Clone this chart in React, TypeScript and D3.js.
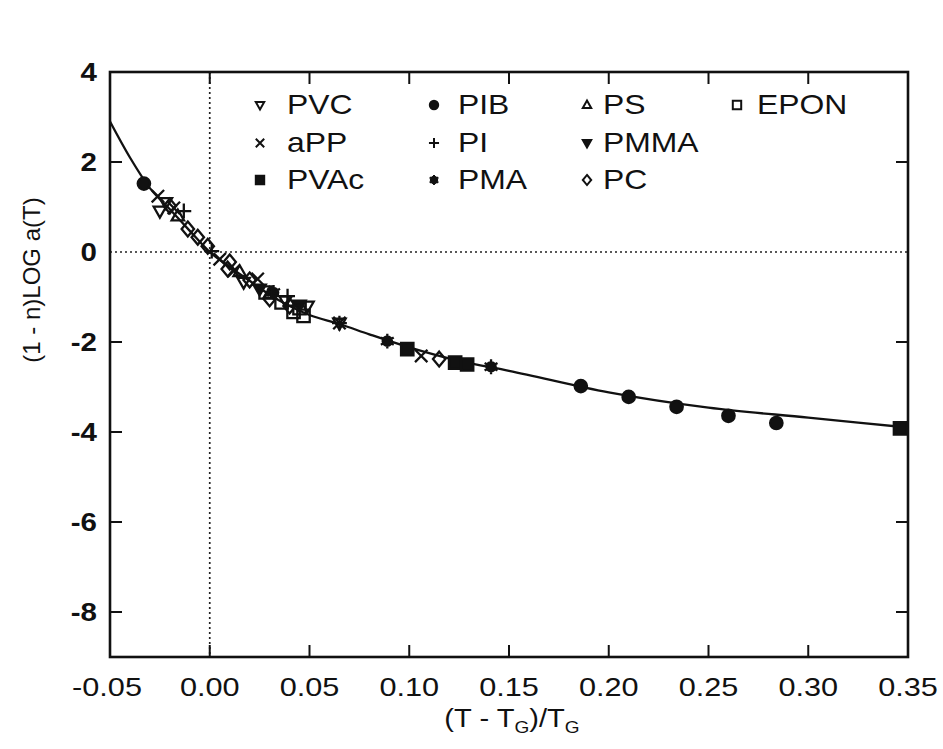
import React from "react";
import * as d3 from "d3";

// ---- data ----
const xTicks = [-0.05, 0.0, 0.05, 0.1, 0.15, 0.2, 0.25, 0.3, 0.35];
const yTicks = [4, 2, 0, -2, -4, -6, -8];

const curveX = [-0.05, -0.04, -0.03, -0.02, -0.01, 0, 0.01, 0.02, 0.03, 0.04, 0.05, 0.065, 0.08, 0.1, 0.125, 0.15, 0.2, 0.25, 0.3, 0.35];
const curveY = [2.9, 2.1, 1.42, 0.95, 0.47, 0, -0.33, -0.64, -0.95, -1.2, -1.4, -1.6, -1.83, -2.12, -2.42, -2.64, -3.12, -3.46, -3.68, -3.9];

const pvc = [[-0.025, 0.91], [-0.022, 1.1], [0.017, -0.67], [0.038, -1.08], [0.049, -1.2], [0.065, -1.58]];
const app = [[-0.026, 1.24], [-0.018, 0.98], [0.005, -0.16], [0.012, -0.42], [0.024, -0.6], [0.065, -1.58], [0.106, -2.31]];
const pvac = [[0.099, -2.16], [0.123, -2.46], [0.129, -2.5], [0.346, -3.92]];
const pib = [[-0.033, 1.52], [0.186, -2.98], [0.21, -3.22], [0.234, -3.44], [0.26, -3.64], [0.284, -3.8]];
const pi = [[-0.013, 0.91], [0.001, 0.02], [0.039, -0.98], [0.065, -1.58]];
const pma = [[0.089, -1.98], [0.141, -2.55], [0.032, -0.9]];
const ps = [[-0.016, 0.8], [0.015, -0.44], [0.03, -0.93]];
const pmma = [[0.025, -0.82], [0.045, -1.18]];
const pc = [[-0.02, 1.02], [-0.011, 0.51], [-0.006, 0.33], [-0.001, 0.13], [0.009, -0.38], [0.01, -0.22], [0.02, -0.62], [0.03, -1.04], [0.04, -1.2], [0.115, -2.38]];
const epon = [[0.028, -0.9], [0.036, -1.12], [0.042, -1.33], [0.045, -1.25], [0.047, -1.42]];

const seriesNames = ["PVC", "aPP", "PVAc", "PIB", "PI", "PMA", "PS", "PMMA", "PC", "EPON"];
const seriesData = [pvc, app, pvac, pib, pi, pma, ps, pmma, pc, epon];
const seriesShapes = ["tridown", "cross", "square", "circle", "plus", "star", "triup", "tridownF", "diamond", "squareOpen"];

// legend layout: column / row for each series (order as above)
const legendCol = [0, 0, 0, 1, 1, 1, 2, 2, 2, 3];
const legendRow = [0, 1, 2, 0, 1, 2, 0, 1, 2, 0];

function shapePath(type: string, s: number): string {
  switch (type) {
    case "tridown":
    case "tridownF":
      return `M${-s},${-s * 0.7}L${s},${-s * 0.7}L0,${s * 1.05}Z`;
    case "triup":
      return `M${-s},${s * 0.7}L${s},${s * 0.7}L0,${-s * 1.05}Z`;
    case "square":
    case "squareOpen":
      return `M${-s},${-s}h${2 * s}v${2 * s}h${-2 * s}Z`;
    case "diamond":
      return `M0,${-s * 1.2}L${s},0L0,${s * 1.2}L${-s},0Z`;
    case "cross":
      return `M${-s},${-s}L${s},${s}M${-s},${s}L${s},${-s}`;
    case "plus":
      return `M${-s * 1.2},0L${s * 1.2},0M0,${-s * 1.2}L0,${s * 1.2}`;
    case "circle":
      return `M${s},0A${s},${s} 0 1,1 ${-s},0A${s},${s} 0 1,1 ${s},0Z`;
    case "star": {
      const r = s * 0.75;
      let p = `M${r},0A${r},${r} 0 1,1 ${-r},0A${r},${r} 0 1,1 ${r},0Z`;
      for (let k = 0; k < 6; k++) {
        const a = (k * Math.PI) / 3 + Math.PI / 6;
        p += `M0,0L${(Math.cos(a) * s * 1.2).toFixed(2)},${(Math.sin(a) * s * 1.2).toFixed(2)}`;
      }
      return p;
    }
  }
  return "";
}

function isFilled(type: string) {
  return type === "square" || type === "circle" || type === "tridownF" || type === "star";
}

function Marker({ type, cx, cy, s, sw }: { type: string; cx: number; cy: number; s: number; sw: number }) {
  const filled = isFilled(type);
  return (
    <path
      transform={`translate(${cx},${cy})`}
      d={shapePath(type, s)}
      fill={filled ? "#111" : "none"}
      stroke="#111"
      strokeWidth={sw}
      strokeLinejoin="miter"
    />
  );
}

const SX = 1.18; // horizontal stretch of the scanned lettering

function SText({ x, y, anchor, size, weight, children }: any) {
  return (
    <g transform={`translate(${x},${y}) scale(${SX},1)`}>
      <text x={0} y={0} textAnchor={anchor || "start"} fontSize={size} fontWeight={weight || "normal"} fill="#111">
        {children}
      </text>
    </g>
  );
}

export default function App() {
  const W = 943;
  const H = 749;
  const x = d3.scaleLinear().domain([-0.05, 0.35]).range([110, 908]);
  const y = d3.scaleLinear().domain([-9, 4]).range([657, 72]);
  const fmt = (v: number) => d3.format(".2f")(v).replace("\u2212", "-");

  const curvePts: [number, number][] = curveX.map((v, i) => [v, curveY[i]]);
  const line = d3
    .line<[number, number]>()
    .x((d) => x(d[0]))
    .y((d) => y(d[1]))
    .curve(d3.curveMonotoneX);

  const [x0, x1] = x.range();
  const [yb, yt] = y.range();
  const tickLen = 12;
  const font = "'Liberation Sans', Arial, Helvetica, sans-serif";

  const colSymX = [260, 434, 587, 737];
  const colTextX = [287, 458, 603, 757];
  const rowY = [114, 152, 189];

  return (
    <div style={{ position: "absolute", left: 0, top: 0, width: W, height: H, background: "#fff" }}>
      <svg width={W} height={H} style={{ display: "block" }} fontFamily={font}>
        <rect x={0} y={0} width={W} height={H} fill="#fff" />
        {/* dotted zero lines */}
        <line x1={x(0)} x2={x(0)} y1={yt} y2={yb} stroke="#222" strokeWidth={1.7} strokeDasharray="2,3" />
        <line x1={x0} x2={x1} y1={y(0)} y2={y(0)} stroke="#222" strokeWidth={1.7} strokeDasharray="2,3" />

        {/* ticks */}
        {xTicks.slice(1, -1).map((t) => (
          <g key={"xt" + t}>
            <line x1={x(t)} x2={x(t)} y1={yt} y2={yt + tickLen} stroke="#111" strokeWidth={2} />
            <line x1={x(t)} x2={x(t)} y1={yb} y2={yb - tickLen} stroke="#111" strokeWidth={2} />
          </g>
        ))}
        {yTicks.slice(1).filter((t) => t !== 0).map((t) => (
          <g key={"yt" + t}>
            <line x1={x0} x2={x0 + tickLen} y1={y(t)} y2={y(t)} stroke="#111" strokeWidth={2} />
            <line x1={x1} x2={x1 - tickLen} y1={y(t)} y2={y(t)} stroke="#111" strokeWidth={2} />
          </g>
        ))}

        {/* frame */}
        <rect x={x0} y={yt} width={x1 - x0} height={yb - yt} fill="none" stroke="#111" strokeWidth={2.6} />

        {/* curve */}
        <path d={line(curvePts) || ""} fill="none" stroke="#111" strokeWidth={2.3} />

        {/* data points */}
        {seriesData.map((arr, si) =>
          arr.map((d, j) => (
            <Marker key={si + "-" + j} type={seriesShapes[si]} cx={x(d[0])} cy={y(d[1])} s={6.2} sw={2.3} />
          ))
        )}

        {/* legend */}
        {seriesNames.map((n, i) => (
          <g key={"lg" + n}>
            <Marker type={seriesShapes[i]} cx={colSymX[legendCol[i]]} cy={rowY[legendRow[i]] - 9} s={4.2} sw={2} />
            <SText x={colTextX[legendCol[i]]} y={rowY[legendRow[i]]} size={27}>
              {n}
            </SText>
          </g>
        ))}

        {/* x tick labels */}
        {xTicks.map((t) => (
          <SText key={"xl" + t} x={x(t) + (t < 0 ? -3 : 0)} y={696} anchor="middle" size={26}>
            {fmt(t)}
          </SText>
        ))}
        {/* y tick labels */}
        {yTicks.map((t) => (
          <SText key={"yl" + t} x={97} y={y(t) + 9} anchor="end" size={25} weight="bold">
            {String(t)}
          </SText>
        ))}

        {/* axis titles */}
        <g transform="translate(512,727) scale(1.12,1)">
          <text x={0} y={0} textAnchor="middle" fontSize={26} fill="#111">
            (T - T<tspan fontSize={17} dy={6}>G</tspan>
            <tspan dy={-6}>)/T</tspan>
            <tspan fontSize={17} dy={6}>G</tspan>
          </text>
        </g>
        <text transform="translate(40,280) rotate(-90)" textAnchor="middle" fontSize={24} fill="#111">
          (1 - n)LOG a(T)
        </text>
      </svg>
    </div>
  );
}
